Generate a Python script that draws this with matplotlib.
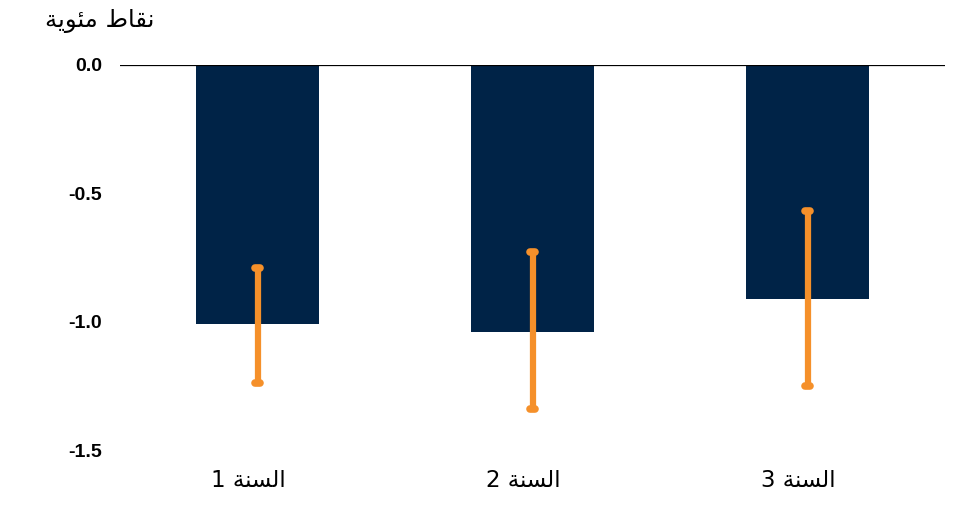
import matplotlib
matplotlib.use("Agg")
import matplotlib.pyplot as plt
import matplotlib.transforms as mtransforms

# data
categories = ["السنة 1", "السنة 2", "السنة 3"]
values = [-1.01, -1.04, -0.91]
err_top = [-0.79, -0.73, -0.57]
err_bottom = [-1.24, -1.34, -1.25]
y_ticks = [0.0, -0.5, -1.0, -1.5]
unit_label = "نقاط مئوية"

# simple arabic shaping (matplotlib does no shaping / bidi)
FORMS = {
    "ا": ("\uFE8D", "\uFE8E", None, None),
    "ل": ("\uFEDD", "\uFEDE", "\uFEDF", "\uFEE0"),
    "س": ("\uFEB1", "\uFEB2", "\uFEB3", "\uFEB4"),
    "ن": ("\uFEE5", "\uFEE6", "\uFEE7", "\uFEE8"),
    "ة": ("\uFE93", "\uFE94", None, None),
    "ق": ("\uFED5", "\uFED6", "\uFED7", "\uFED8"),
    "ط": ("\uFEC1", "\uFEC2", "\uFEC3", "\uFEC4"),
    "م": ("\uFEE1", "\uFEE2", "\uFEE3", "\uFEE4"),
    "ئ": ("\uFE89", "\uFE8A", "\uFE8B", "\uFE8C"),
    "و": ("\uFEED", "\uFEEE", None, None),
    "ي": ("\uFEF1", "\uFEF2", "\uFEF3", "\uFEF4"),
}


def dual(c):
    return c in FORMS and FORMS[c][2] is not None


def shape(text):
    out = []
    for i, c in enumerate(text):
        if c not in FORMS:
            out.append(c)
            continue
        prev = text[i - 1] if i > 0 else ""
        nxt = text[i + 1] if i + 1 < len(text) else ""
        jp = dual(prev)
        jn = dual(c) and nxt in FORMS
        iso, fin, ini, med = FORMS[c]
        if jp and jn:
            out.append(med)
        elif jp:
            out.append(fin)
        elif jn:
            out.append(ini)
        else:
            out.append(iso)
    return "".join(out)[::-1]


navy = "#002347"
orange = "#F5902A"

fig = plt.figure(figsize=(9.61, 5.09), dpi=100)
ax = fig.add_axes([0.1249, 0.1159, 0.8585, 0.7564])

x = list(range(len(categories)))
ax.bar(x, values, width=0.45, color=navy, zorder=2)

# error ranges: thick orange line with rounded caps
ax.vlines(x, err_bottom, err_top, color=orange, linewidth=4.5, zorder=3)
for xi, lo, hi in zip(x, err_bottom, err_top):
    for yv in (lo, hi):
        ax.plot([xi - 0.008, xi + 0.008], [yv, yv], color=orange,
                linewidth=5.5, solid_capstyle="round", zorder=4)

ax.axhline(0, color="black", linewidth=0.9, zorder=5)

ax.set_xlim(-0.5, 2.5)
ax.set_ylim(-1.5, 0.0)
for s in ax.spines.values():
    s.set_visible(False)

ax.set_yticks(y_ticks)
ax.set_yticklabels([f"{t:.1f}" for t in y_ticks], fontfamily="Liberation Sans",
                   fontweight="bold", fontsize=14)
ax.tick_params(axis="y", length=0, pad=13)

# category labels under the bars
ax.set_xticks([])
trans = mtransforms.blended_transform_factory(ax.transData, ax.transAxes)
for xi, c in zip(x, categories):
    ax.text(xi - 0.033, -0.078, shape(c), transform=trans,
            fontfamily=["DejaVu Sans"], fontsize=16.5, ha="center", va="center")

fig.text(0.047, 0.958, shape(unit_label), fontfamily=["DejaVu Sans"],
         fontsize=17.5, ha="left", va="center")

fig.savefig("out.png", dpi=100)
